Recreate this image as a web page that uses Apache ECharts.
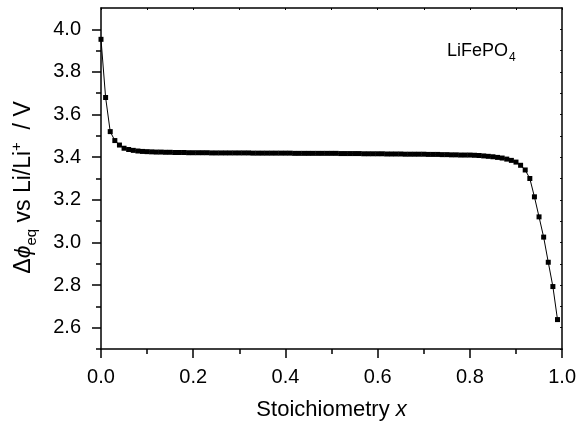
<!DOCTYPE html>
<html>
<head>
<meta charset="utf-8">
<script src="https://cdn.jsdelivr.net/npm/echarts@6/dist/echarts.min.js"></script>
<style>
  html, body { margin: 0; padding: 0; background: #fff; }
  #main { width: 579px; height: 430px; }
</style>
</head>
<body>
<div id="main"></div>
<script>
// stoichiometry x (one point every 0.01)
var xs = [
  0.00, 0.01, 0.02, 0.03, 0.04, 0.05, 0.06, 0.07, 0.08, 0.09,
  0.10, 0.11, 0.12, 0.13, 0.14, 0.15, 0.16, 0.17, 0.18, 0.19,
  0.20, 0.21, 0.22, 0.23, 0.24, 0.25, 0.26, 0.27, 0.28, 0.29,
  0.30, 0.31, 0.32, 0.33, 0.34, 0.35, 0.36, 0.37, 0.38, 0.39,
  0.40, 0.41, 0.42, 0.43, 0.44, 0.45, 0.46, 0.47, 0.48, 0.49,
  0.50, 0.51, 0.52, 0.53, 0.54, 0.55, 0.56, 0.57, 0.58, 0.59,
  0.60, 0.61, 0.62, 0.63, 0.64, 0.65, 0.66, 0.67, 0.68, 0.69,
  0.70, 0.71, 0.72, 0.73, 0.74, 0.75, 0.76, 0.77, 0.78, 0.79,
  0.80, 0.81, 0.82, 0.83, 0.84, 0.85, 0.86, 0.87, 0.88, 0.89,
  0.90, 0.91, 0.92, 0.93, 0.94, 0.95, 0.96, 0.97, 0.98, 0.99
];
// equilibrium potential vs Li/Li+ (V)
var ys = [
  3.953, 3.680, 3.520, 3.478, 3.457, 3.442, 3.436, 3.432, 3.429, 3.427,
  3.426, 3.425, 3.424, 3.424, 3.423, 3.423, 3.422, 3.422, 3.422, 3.421,
  3.421, 3.421, 3.421, 3.421, 3.420, 3.420, 3.420, 3.420, 3.420, 3.420,
  3.420, 3.420, 3.420, 3.419, 3.419, 3.419, 3.419, 3.419, 3.419, 3.419,
  3.419, 3.419, 3.418, 3.418, 3.418, 3.418, 3.418, 3.418, 3.418, 3.418,
  3.418, 3.418, 3.417, 3.417, 3.417, 3.417, 3.417, 3.416, 3.416, 3.416,
  3.416, 3.416, 3.415, 3.415, 3.415, 3.415, 3.414, 3.414, 3.414, 3.414,
  3.414, 3.413, 3.413, 3.413, 3.412, 3.412, 3.411, 3.411, 3.410, 3.410,
  3.410, 3.409, 3.408, 3.406, 3.404, 3.402, 3.399, 3.396, 3.391, 3.385,
  3.377, 3.362, 3.340, 3.300, 3.214, 3.120, 3.025, 2.907, 2.793, 2.638
];
// tick positions
var yMajor = [2.6, 2.8, 3.0, 3.2, 3.4, 3.6, 3.8, 4.0];
var yMinor = [2.5, 2.7, 2.9, 3.1, 3.3, 3.5, 3.7, 3.9];
var xAll = [0, 0.1, 0.2, 0.3, 0.4, 0.5, 0.6, 0.7, 0.8, 0.9, 1.0];

var pts = xs.map(function (x, i) { return [x, ys[i]]; });

var FONT = 'Liberation Sans, Arial, sans-serif';
var black = '#000';

var myChart = echarts.init(document.getElementById('main'));
var option = {
  animation: false,
  backgroundColor: '#fff',
  title: {
    text: 'LiFePO{s|4}',
    left: 442,
    top: 33,
    textStyle: {
      fontFamily: FONT, fontSize: 18, fontWeight: 'normal', color: black,
      rich: { s: { fontFamily: FONT, fontSize: 12, color: black, padding: [14, 0, 0, 1] } }
    }
  },
  grid: { left: 101, right: 16, top: 8, bottom: 81 },
  xAxis: [
    {
      type: 'value', min: 0, max: 1, interval: 0.2,
      name: 'Stoichiometry {i|x}',
      nameLocation: 'middle',
      nameGap: 50,
      nameTextStyle: {
        fontFamily: FONT, fontSize: 22, color: black,
        rich: { i: { fontFamily: FONT, fontSize: 22, fontStyle: 'italic', color: black } }
      },
      axisLine: { onZero: false, lineStyle: { color: black, width: 1.5 } },
      axisTick: { inside: false, length: 9, lineStyle: { color: black, width: 1.5 } },
      minorTick: { show: true, splitNumber: 2, length: 5, lineStyle: { color: black, width: 1.5 } },
      axisLabel: {
        fontFamily: FONT, fontSize: 20, color: black, margin: 18,
        formatter: function (v) { return v.toFixed(1); }
      },
      splitLine: { show: false }
    },
    {
      type: 'value', min: 0, max: 1, position: 'top',
      axisLine: { onZero: false, lineStyle: { color: black, width: 1.5 } },
      axisTick: { show: true, inside: true, length: 2, customValues: xAll, lineStyle: { color: black, width: 1 } },
      axisLabel: { show: false },
      splitLine: { show: false }
    }
  ],
  yAxis: [
    {
      type: 'value', min: 2.5, max: 4.1,
      name: '\u0394{phi|\u03d5}{sub|eq} vs Li/Li{sup|+}  / V',
      nameLocation: 'middle',
      nameGap: 62,
      nameRotate: 90,
      nameTextStyle: {
        fontFamily: FONT, fontSize: 23, color: black, lineHeight: 30,
        padding: [0, 18, 0, 0],
        rich: {
          phi: { fontFamily: FONT, fontSize: 23, fontStyle: 'italic', color: black, lineHeight: 30 },
          sub: { fontFamily: FONT, fontSize: 15, color: black, verticalAlign: 'bottom', lineHeight: 30, padding: [12, 0, 0, 0] },
          sup: { fontFamily: FONT, fontSize: 15, color: black, verticalAlign: 'top', lineHeight: 30, padding: [0, 0, 12, 0] }
        }
      },
      axisLine: { onZero: false, lineStyle: { color: black, width: 1.5 } },
      axisTick: { length: 9, customValues: yMajor, lineStyle: { color: black, width: 1.5 } },
      axisLabel: {
        fontFamily: FONT, fontSize: 20, color: black, margin: 20,
        customValues: yMajor,
        formatter: function (v) { return v.toFixed(1); }
      },
      splitLine: { show: false }
    },
    {
      // minor ticks on the left
      type: 'value', min: 2.5, max: 4.1, position: 'left',
      axisLine: { show: false },
      axisTick: { length: 5, customValues: yMinor, lineStyle: { color: black, width: 1.5 } },
      axisLabel: { show: false },
      splitLine: { show: false }
    },
    {
      type: 'value', min: 2.5, max: 4.1, position: 'right',
      axisLine: { show: true, onZero: false, lineStyle: { color: black, width: 1.5 } },
      axisTick: { show: true, inside: true, length: 2, customValues: yMajor.concat(yMinor), lineStyle: { color: black, width: 1 } },
      axisLabel: { show: false },
      splitLine: { show: false }
    }
  ],
  series: [
    {
      type: 'line',
      data: pts,
      symbol: 'rect',
      symbolSize: 5,
      showAllSymbol: true,
      itemStyle: { color: black },
      lineStyle: { color: black, width: 1 }
    }
  ]
};
myChart.setOption(option);
</script>
</body>
</html>
